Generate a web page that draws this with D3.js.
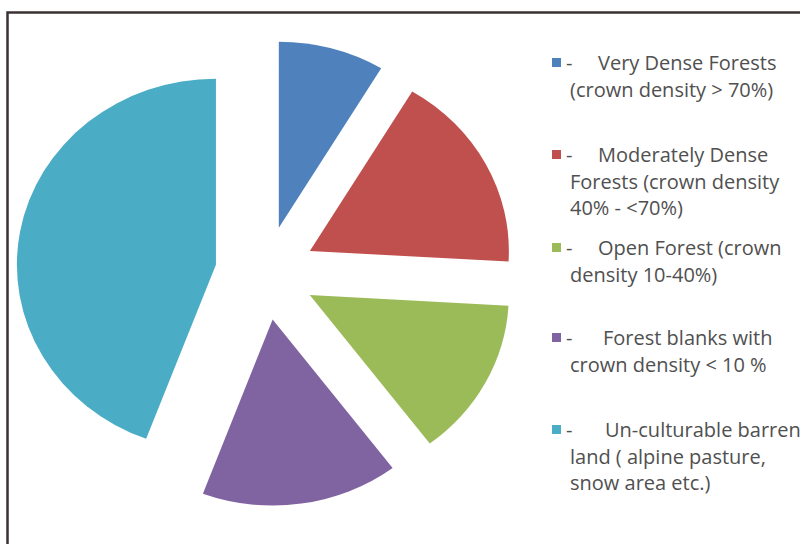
<!DOCTYPE html>
<html>
<head>
<meta charset="utf-8">
<script src="https://cdn.jsdelivr.net/npm/d3@7"></script>
<style>
  html, body { margin: 0; padding: 0; background: #ffffff; }
  svg { display: block; }
</style>
</head>
<body>
<svg id="chart" width="800" height="544"></svg>
<script>
// ---- data ----
const categories = [
  "Very Dense Forests (crown density > 70%)",
  "Moderately Dense Forests (crown density 40% - <70%)",
  "Open Forest (crown density 10-40%)",
  "Forest blanks with crown density < 10 %",
  "Un-culturable barren land ( alpine pasture, snow area etc.)"
];
const values = [8.6, 17.3, 13.8, 16.0, 44.3];
const legendLines = [
  ["Very Dense Forests", "(crown density > 70%)"],
  ["Moderately Dense", "Forests (crown density", "40% - <70%)"],
  ["Open Forest (crown", "density 10-40%)"],
  ["Forest blanks with", "crown density < 10 %"],
  ["Un-culturable barren", "land ( alpine pasture,", "snow area etc.)"]
];
const colors = ["#4F81BD", "#C0504D", "#9BBB59", "#8064A2", "#4BACC6"];

// ---- layout ----
const svg = d3.select("#chart");
const cx = 265.4, cy = 273, R = 186, explode = 47, sx = 1.07;

// frame
svg.append("rect")
  .attr("x", 7.5).attr("y", 12.5)
  .attr("width", 820).attr("height", 560)
  .attr("fill", "none")
  .attr("stroke", "#3a3232")
  .attr("stroke-width", 2.5);

const pie = d3.pie().sort(null).value(d => d);
const arc = d3.arc().innerRadius(0).outerRadius(R);
const arcs = pie(values);

const g = svg.append("g").attr("transform", `translate(${cx},${cy}) scale(${sx},1)`);
g.selectAll("path")
  .data(arcs)
  .join("path")
  .attr("d", arc)
  .attr("fill", (d, i) => colors[i])
  .attr("transform", d => {
    const m = (d.startAngle + d.endAngle) / 2;
    return `translate(${explode * Math.sin(m)},${-explode * Math.cos(m)})`;
  });

// ---- legend ----
const legendTop = [58, 150, 243, 333, 425];
const firstX = [598, 598, 598, 603, 605];
const lineH = 26.5;
const leg = svg.append("g")
  .attr("font-family", "'Open Sans', Lato, sans-serif")
  .attr("font-size", 20)
  .attr("fill", "#505050");

legendLines.forEach((lines, i) => {
  const y0 = legendTop[i];
  leg.append("rect")
    .attr("x", 552).attr("y", y0)
    .attr("width", 9).attr("height", 9)
    .attr("fill", colors[i]);
  leg.append("text").attr("x", 566).attr("y", y0 + 12).text("-");
  lines.forEach((t, j) => {
    leg.append("text")
      .attr("x", j === 0 ? firstX[i] : 570)
      .attr("y", y0 + 12 + j * lineH)
      .text(t);
  });
});
</script>
</body>
</html>
